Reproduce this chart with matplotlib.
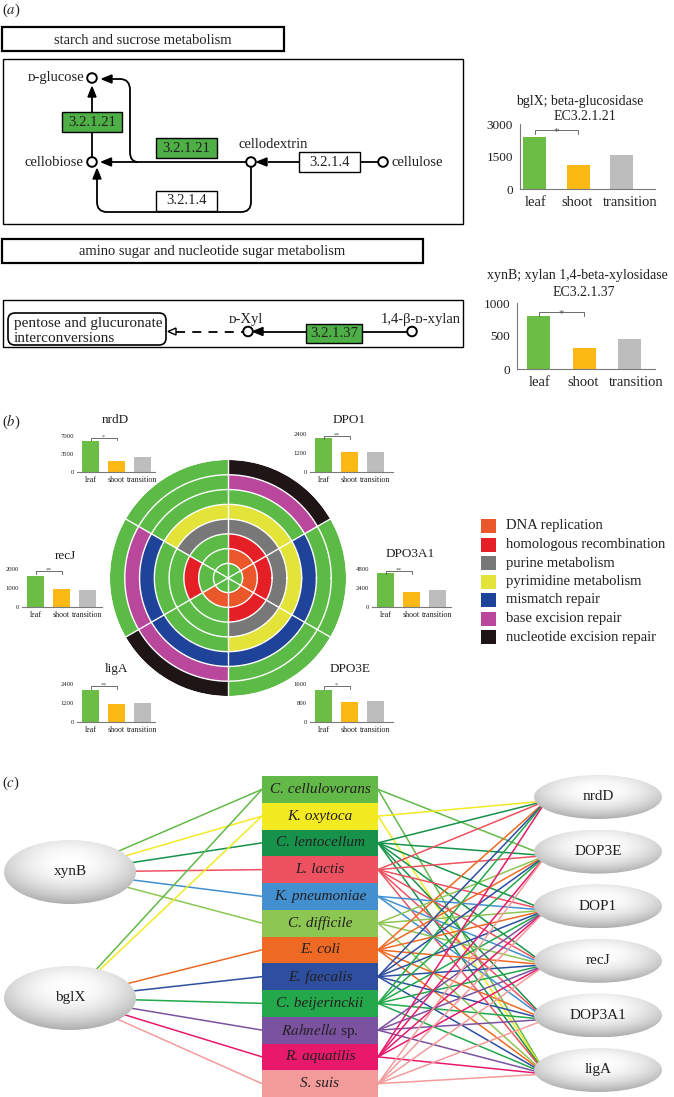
import numpy as np
import matplotlib
matplotlib.use('Agg')
import matplotlib.pyplot as plt
from matplotlib.patches import Rectangle, Circle, Ellipse, FancyBboxPatch, Polygon, PathPatch
from matplotlib.path import Path

# ---------------- data ----------------
stages = ['leaf', 'shoot', 'transition']
stage_colors = ['#6cbd45', '#fdb913', '#bdbdbd']

bglX_values = [2400, 1130, 1580]
bglX_ticks = [0, 1500, 3000]
xynB_values = [810, 320, 460]
xynB_ticks = [0, 500, 1000]

nrdD_values = [6000, 2100, 2900]
nrdD_ticks = [0, 3500, 7000]
DPO1_values = [2150, 1250, 1280]
DPO1_ticks = [0, 1200, 2400]
recJ_values = [1650, 950, 890]
recJ_ticks = [0, 1000, 2000]
DPO3A1_values = [4300, 1950, 2100]
DPO3A1_ticks = [0, 2400, 4800]
ligA_values = [2000, 1150, 1180]
ligA_ticks = [0, 1200, 2400]
DPO3E_values = [1350, 850, 880]
DPO3E_ticks = [0, 800, 1600]

pathways = ['DNA replication', 'homologous recombination', 'purine metabolism',
            'pyrimidine metabolism', 'mismatch repair', 'base excision repair',
            'nucleotide excision repair']
pathway_colors = ['#e9572b', '#e41f26', '#787878', '#e4e33a', '#1f4398', '#b9479b', '#1f1517']
absent_color = '#5cba47'

ring_genes = ['DPO1', 'DPO3A1', 'DPO3E', 'ligA', 'recJ', 'nrdD']
ring_angles = [60, 0, -60, -120, 180, 120]
DPO1_member = [1, 1, 1, 1, 0, 1, 1]
DPO3A1_member = [1, 1, 1, 1, 1, 0, 0]
DPO3E_member = [1, 1, 1, 1, 1, 0, 0]
ligA_member = [1, 0, 0, 0, 1, 1, 1]
recJ_member = [0, 1, 0, 0, 1, 1, 0]
nrdD_member = [0, 0, 1, 1, 0, 0, 0]

species = ['C. cellulovorans', 'K. oxytoca', 'C. lentocellum', 'L. lactis', 'K. pneumoniae',
           'C. difficile', 'E. coli', 'E. faecalis', 'C. beijerinckii', 'Rahnella sp.',
           'R. aquatilis', 'S. suis']
species_colors = ['#62b948', '#f3ea22', '#17924a', '#ee5261', '#4290d0', '#8cc653',
                  '#ee6a24', '#2e4ea0', '#23a84b', '#7b52a0', '#e8196b', '#f39b9b']
left_genes = ['xynB', 'bglX']
xynB_links = ['C. cellulovorans', 'K. oxytoca', 'C. lentocellum', 'L. lactis', 'K. pneumoniae', 'C. difficile']
bglX_links = ['C. cellulovorans', 'K. oxytoca', 'E. coli', 'E. faecalis', 'C. beijerinckii',
              'Rahnella sp.', 'R. aquatilis', 'S. suis']
right_genes = ['nrdD', 'DOP3E', 'DOP1', 'recJ', 'DOP3A1', 'ligA']
dna_links = {
    'C. cellulovorans': ['DOP3E', 'ligA'],
    'K. oxytoca': ['nrdD', 'ligA'],
    'C. lentocellum': ['nrdD', 'DOP3E', 'DOP1', 'recJ', 'DOP3A1', 'ligA'],
    'L. lactis': ['nrdD', 'DOP3E', 'DOP1', 'recJ', 'DOP3A1', 'ligA'],
    'K. pneumoniae': ['DOP1', 'recJ', 'DOP3A1'],
    'C. difficile': ['DOP3E', 'DOP1', 'recJ', 'ligA'],
    'E. coli': ['nrdD', 'DOP3E', 'DOP1', 'recJ', 'DOP3A1', 'ligA'],
    'E. faecalis': ['nrdD', 'DOP3E', 'DOP1', 'recJ', 'DOP3A1', 'ligA'],
    'C. beijerinckii': ['nrdD', 'DOP3E', 'DOP1', 'recJ', 'DOP3A1', 'ligA'],
    'Rahnella sp.': ['DOP1', 'recJ', 'DOP3A1', 'ligA'],
    'R. aquatilis': ['nrdD', 'DOP3E', 'DOP1', 'recJ', 'ligA'],
    'S. suis': ['DOP3E', 'DOP1', 'recJ', 'DOP3A1', 'ligA'],
}

# ---------------- figure ----------------
W, H = 674, 1097
plt.rcParams['font.family'] = ['Liberation Serif', 'DejaVu Serif']
plt.rcParams['mathtext.fontset'] = 'stix'
fig = plt.figure(figsize=(W / 100, H / 100), dpi=100)
ax = fig.add_axes([0, 0, 1, 1])
ax.set_xlim(0, W)
ax.set_ylim(H, 0)
ax.axis('off')

FS = 10.5
TXT = '#231f20'


def frect(x0, y0, x1, y1):
    return [x0 / W, 1 - y1 / H, (x1 - x0) / W, (y1 - y0) / H]


def rect(x0, y0, x1, y1, fc='white', ec='black', lw=1.0, z=3):
    ax.add_patch(Rectangle((x0, y0), x1 - x0, y1 - y0, facecolor=fc, edgecolor=ec, lw=lw, zorder=z))


def node(x, y, r=4.8):
    ax.add_patch(Circle((x, y), r, facecolor='white', edgecolor='black', lw=1.4, zorder=4))


def head(tip, d, length=10, width=8, filled=True):
    tx, ty = tip
    dx, dy = d
    bx, by = tx - dx * length, ty - dy * length
    px, py = -dy, dx
    pts = [(tx, ty), (bx + px * width / 2, by + py * width / 2), (bx - px * width / 2, by - py * width / 2)]
    ax.add_patch(Polygon(pts, closed=True, facecolor='black' if filled else 'white',
                         edgecolor='black', lw=1.0, zorder=4))


def line(xs, ys, ls='-', lw=1.3, z=2):
    ax.plot(xs, ys, color='black', lw=lw, ls=ls, zorder=z, solid_capstyle='butt')


def curve(verts, codes, z=2):
    ax.add_patch(PathPatch(Path(verts, codes), facecolor='none', edgecolor='black', lw=1.3, zorder=z))


# ---------------- panel (a) diagram ----------------
ax.text(2, 10, r'($\it{a}$)', fontsize=FS, va='center', ha='left', color=TXT)
rect(2, 27, 284, 51, lw=1.6)
ax.text(143, 40, 'starch and sucrose metabolism', fontsize=FS, ha='center', va='center', color=TXT, zorder=5)
rect(3, 59, 463, 224, lw=1.0, z=1)

node(92, 78)
ax.text(84, 78, 'ᴅ-glucose', fontsize=FS, ha='right', va='center', color=TXT)
node(92, 162)
ax.text(83, 162, 'cellobiose', fontsize=FS, ha='right', va='center', color=TXT)
node(251, 162)
ax.text(273, 145, 'cellodextrin', fontsize=FS, ha='center', va='center', color=TXT)
node(383, 162)
ax.text(392, 162, 'cellulose', fontsize=FS, ha='left', va='center', color=TXT)

line([92, 92], [157, 96])
head((92, 87), (0, -1))
line([112, 246], [162, 162])
head((101.5, 162), (-1, 0))
curve([(138, 162), (130, 162), (130, 152), (130, 90), (130, 79), (120, 79), (112, 79)],
      [Path.MOVETO, Path.CURVE3, Path.CURVE3, Path.LINETO, Path.CURVE3, Path.CURVE3, Path.LINETO])
head((102, 79), (-1, 0))
line([268, 299], [162, 162])
head((257, 162), (-1, 0))
line([360, 378], [162, 162])
curve([(251, 167), (251, 202), (251, 212), (241, 212), (107, 212), (97, 212), (97, 202), (97, 179)],
      [Path.MOVETO, Path.LINETO, Path.CURVE3, Path.CURVE3, Path.LINETO, Path.CURVE3, Path.CURVE3, Path.LINETO])
head((97, 169), (0, -1))

green_box = '#4daf45'
rect(62, 112, 122, 132, fc=green_box)
ax.text(92, 122, '3.2.1.21', fontsize=FS, ha='center', va='center', color=TXT, zorder=5)
rect(156, 138, 217, 158, fc=green_box)
ax.text(186.5, 148, '3.2.1.21', fontsize=FS, ha='center', va='center', color=TXT, zorder=5)
rect(299, 152, 360, 172)
ax.text(329.5, 162, '3.2.1.4', fontsize=FS, ha='center', va='center', color=TXT, zorder=5)
rect(156, 191, 217, 211)
ax.text(186.5, 201, '3.2.1.4', fontsize=FS, ha='center', va='center', color=TXT, zorder=5)

rect(2, 239, 423, 263, lw=1.6)
ax.text(212, 251, 'amino sugar and nucleotide sugar metabolism', fontsize=FS, ha='center', va='center', color=TXT, zorder=5)
rect(3, 300, 463, 347, lw=1.0, z=1)
ax.add_patch(FancyBboxPatch((8, 313), 158, 32, boxstyle='round,pad=0,rounding_size=7',
                            facecolor='white', edgecolor='black', lw=1.2, zorder=3))
ax.text(14, 323, 'pentose and glucuronate', fontsize=11, ha='left', va='center', color=TXT, zorder=5)
ax.text(14, 338, 'interconversions', fontsize=11, ha='left', va='center', color=TXT, zorder=5)
head((168, 331.5), (-1, 0), length=8, width=7, filled=False)
line([176, 243], [331.5, 331.5], ls=(0, (5, 4)))
node(248, 331.5)
ax.text(246, 320, 'ᴅ-Xyl', fontsize=FS, ha='center', va='center', color=TXT)
head((253, 331.5), (-1, 0))
line([263, 306], [331.5, 331.5])
rect(306, 324, 362, 343, fc=green_box)
ax.text(334, 333.5, '3.2.1.37', fontsize=FS, ha='center', va='center', color=TXT, zorder=5)
line([362, 408], [331.5, 331.5])
node(412, 331.5)
ax.text(421, 319, '1,4-β-ᴅ-xylan', fontsize=FS, ha='center', va='center', color=TXT)


# ---------------- bar chart helper ----------------
def bar_chart(box, centers_px, values, ticks, sig, bracket_frac, tick_fs, lab_fs, lab_y,
              left_spine, bw, lab_x=None, pad=2, star_fs=6, star_dy=0.5):
    x0, y0, x1, y1 = box
    a = fig.add_axes(frect(x0, y0, x1, y1))
    a.patch.set_alpha(0)
    spacing = centers_px[1] - centers_px[0]
    xl = ((x0 - centers_px[0]) / spacing, (x1 - centers_px[0]) / spacing)
    pos = np.arange(len(values))
    a.bar(pos, values, width=bw / spacing, color=stage_colors, zorder=2)
    a.set_xlim(*xl)
    a.set_ylim(0, ticks[-1])
    a.set_yticks(ticks)
    a.set_yticklabels([str(t) for t in ticks], fontsize=tick_fs, color=TXT)
    a.set_xticks([])
    for s in ['top', 'right']:
        a.spines[s].set_visible(False)
    a.spines['left'].set_visible(left_spine)
    a.spines['bottom'].set_color('#7a7a7a')
    a.spines['left'].set_color('#7a7a7a')
    a.spines['bottom'].set_linewidth(0.8)
    a.spines['left'].set_linewidth(0.8)
    a.tick_params(axis='y', length=0, pad=pad)
    ymax = ticks[-1]
    yb = bracket_frac * ymax
    d = 0.06 * ymax
    a.plot([0, 0, 1, 1], [yb - d, yb, yb, yb - d], color='#555555', lw=0.6, clip_on=False, zorder=3)
    a.annotate(sig, (0.5, yb), xytext=(0, star_dy), textcoords='offset points', ha='center', va='center',
               fontsize=star_fs, color='#555555', annotation_clip=False)
    if lab_x is None:
        lab_x = centers_px
    for c, s in zip(lab_x, stages):
        ax.text(c, lab_y, s, ha='center', va='center', fontsize=lab_fs, color=TXT)
    return a


# panel (a) charts
ax.text(580, 102, 'bglX; beta-glucosidase', fontsize=10, ha='center', va='center', color=TXT)
ax.text(585, 117, 'EC3.2.1.21', fontsize=10, ha='center', va='center', color=TXT)
bar_chart((520, 124, 655, 189), [534.5, 578, 622], bglX_values, bglX_ticks, '*', 0.91, 9.5, 10.5, 202,
          True, 23, lab_x=[536, 577, 630], pad=5, star_fs=8, star_dy=-1)
ax.text(577, 275, 'xynB; xylan 1,4-beta-xylosidase', fontsize=10, ha='center', va='center', color=TXT)
ax.text(584, 292, 'EC3.2.1.37', fontsize=10, ha='center', va='center', color=TXT)
bar_chart((517, 303, 655, 369), [538.5, 584, 629], xynB_values, xynB_ticks, '*', 0.86, 9.5, 10.5, 383,
          True, 23, lab_x=[540, 583, 636], pad=5, star_fs=8, star_dy=-1)

# ---------------- panel (b) ----------------
ax.text(2, 422, r'($\it{b}$)', fontsize=FS, va='center', ha='left', color=TXT)
small = [
    ('nrdD', (77, 436, 155, 472), nrdD_values, nrdD_ticks, '*', (115, 420)),
    ('DPO1', (310, 434, 393, 472), DPO1_values, DPO1_ticks, '**', (349, 420)),
    ('recJ', (22, 569, 102, 607), recJ_values, recJ_ticks, '**', (65, 556)),
    ('DPO3A1', (372, 569, 451, 607), DPO3A1_values, DPO3A1_ticks, '**', (410, 554)),
    ('ligA', (77, 684, 155, 722), ligA_values, ligA_ticks, '**', (117, 669)),
    ('DPO3E', (310, 684, 393, 722), DPO3E_values, DPO3E_ticks, '*', (350, 669)),
]
for name, bx, vals, tks, sig, tpos in small:
    x0 = bx[0]
    centers = [x0 + 13.5, x0 + 39.5, x0 + 65.5]
    bar_chart(bx, centers, vals, tks, sig, 0.94, 4.8, 5.8, bx[3] + 8, False, 17.5, star_fs=4.5)
    ax.text(tpos[0], tpos[1], name, fontsize=9.5, ha='center', va='center', color=TXT)

# ring chart
cx, cy, R = 228, 578, 118
pax = fig.add_axes(frect(cx - R, cy - R, cx + R, cy + R), projection='polar')
pax.patch.set_alpha(0)
r0, dr = 14.5, 14.7
pax.bar(0, r0, width=2 * np.pi, bottom=0, color=absent_color, edgecolor='none', lw=0)
memberships = [DPO1_member, DPO3A1_member, DPO3E_member, ligA_member, recJ_member, nrdD_member]
for ang, mem in zip(ring_angles, memberships):
    for k, m in enumerate(mem):
        col = pathway_colors[k] if m else absent_color
        pax.bar(np.deg2rad(ang), dr, width=np.deg2rad(60), bottom=r0 + k * dr,
                color=col, edgecolor='none', lw=0)
theta = np.linspace(0, 2 * np.pi, 400)
for k in range(7):
    pax.plot(theta, np.full_like(theta, r0 + k * dr), color='white', lw=1.0)
for ang in ring_angles:
    b = np.deg2rad(ang + 30)
    pax.plot([b, b], [0, r0 + 7 * dr], color='white', lw=1.0)
pax.set_ylim(0, r0 + 7 * dr)
pax.axis('off')

# legend
for i, (p, c) in enumerate(zip(pathways, pathway_colors)):
    yy = 526 + i * 18.5
    rect(481, yy - 7, 496, yy + 7, fc=c, ec='none', z=3)
    ax.text(506, yy, p, fontsize=FS, ha='left', va='center', color=TXT)

# ---------------- panel (c) network ----------------
ax.text(2, 783, r'($\it{c}$)', fontsize=FS, va='center', ha='left', color=TXT)
bx0, bx1, by0, bh = 262, 378, 776, 26.75
sp_y = {s: by0 + bh * (i + 0.5) for i, s in enumerate(species)}
sp_c = dict(zip(species, species_colors))
for i, (s, c) in enumerate(zip(species, species_colors)):
    rect(bx0, by0 + bh * i, bx1, by0 + bh * (i + 1), fc=c, ec='none', z=3)
    if s.endswith(' sp.'):
        lab = r'$\mathit{' + s[:-4] + r'}$ sp.'
        ax.text((bx0 + bx1) / 2, sp_y[s], lab, fontsize=11, ha='center', va='center', color=TXT, zorder=4)
    else:
        ax.text((bx0 + bx1) / 2, sp_y[s], s, fontsize=11, ha='center', va='center', style='italic', color=TXT, zorder=4)

left_pos = {'xynB': (70, 872), 'bglX': (70, 998)}
right_pos = {g: (598, 797 + 54.6 * i) for i, g in enumerate(right_genes)}

for s in xynB_links:
    ax.plot([left_pos['xynB'][0], bx0], [left_pos['xynB'][1], sp_y[s]], color=sp_c[s], lw=1.1, zorder=2)
for s in bglX_links:
    ax.plot([left_pos['bglX'][0], bx0], [left_pos['bglX'][1], sp_y[s]], color=sp_c[s], lw=1.1, zorder=2)
for s in species:
    for g in dna_links[s]:
        gx, gy = right_pos[g]
        ax.plot([bx1, gx - 52], [sp_y[s], gy + 4], color=sp_c[s], lw=1.1, zorder=2)


def grad_ellipse(x, y, w, h, label):
    e = Ellipse((x, y), w, h, facecolor='none', edgecolor='none', zorder=5)
    ax.add_patch(e)
    yy, xx = np.mgrid[-1:1:200j, -1:1:200j]
    r = np.sqrt(xx ** 2 + (yy + 0.3) ** 2)
    val = 1.0 - 0.19 * np.clip(r, 0, 1.4) ** 2
    im = ax.imshow(val, extent=(x - w / 2, x + w / 2, y + h / 2, y - h / 2), cmap='gray', vmin=0, vmax=1,
                   zorder=5, aspect='auto', interpolation='bilinear')
    im.set_clip_path(e)
    ax.text(x, y, label, fontsize=11, ha='center', va='center', color=TXT, zorder=6)


for g in left_genes:
    grad_ellipse(left_pos[g][0], left_pos[g][1], 132, 64, g)
for g in right_genes:
    grad_ellipse(right_pos[g][0], right_pos[g][1], 128, 44, g)

ax.set_xlim(0, W)
ax.set_ylim(H, 0)

fig.savefig('out.png', dpi=100)
